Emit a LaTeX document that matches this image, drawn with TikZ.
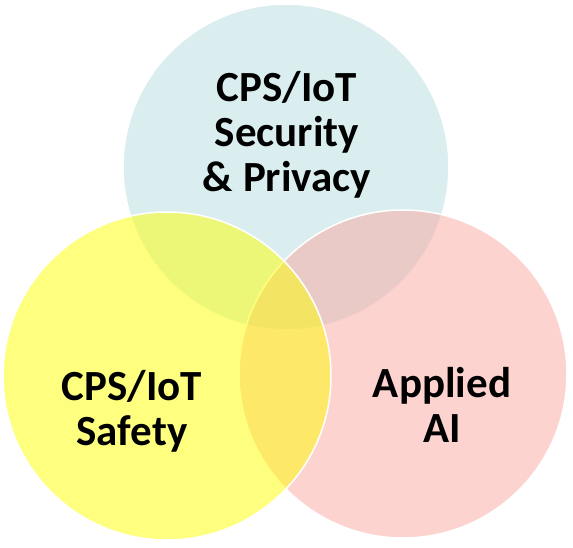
\documentclass[tikz,border=0pt]{standalone}
\usepackage{fontspec}
\setmainfont{Carlito}
\definecolor{secblue}{RGB}{218,238,239}
\definecolor{aipink}{RGB}{251,167,161}
\definecolor{safeyellow}{RGB}{255,255,0}
\begin{document}
\begin{tikzpicture}[x=1pt,y=-1pt]

      \useasboundingbox (0,0) rectangle (573,548);

      \begin{scope}[every node/.style={circle,draw=white,line width=1.5pt,inner sep=0pt,minimum size=328pt}]
        \node[fill=secblue,minimum size=326pt] (sec) at (286,167) {};
        \node[fill=aipink,fill opacity=.5]  (ai)   at (403,374) {};
        \node[fill=safeyellow,fill opacity=.5] (safe) at (167,376) {};
      \end{scope}

      \begin{scope}[every node/.style={align=center,inner sep=0pt,font=\fontsize{43}{45}\selectfont\bfseries}]
        \node (sectext)  at (287,135) {CPS/IoT\\Security\\\& Privacy};
        \node (safetext) at (132,411) {CPS/IoT\\Safety};
        \node (aitext)   at (442,405) {Applied\\AI};
      \end{scope}

    \end{tikzpicture}
\end{document}
